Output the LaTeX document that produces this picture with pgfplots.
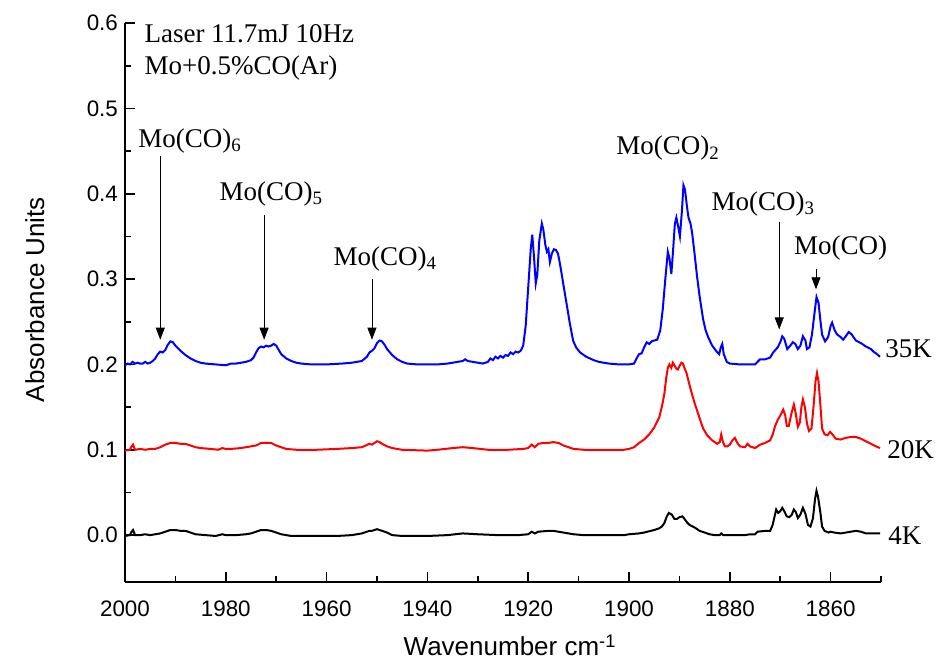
\documentclass[border=0pt]{standalone}
\usepackage{fontspec}
\setmainfont{Liberation Serif}
\setsansfont{Liberation Sans}
\usepackage{pgfplots}
\pgfplotsset{compat=1.18}
\usetikzlibrary{arrows.meta}

\pgfplotstableread{
x y
2000 0.199
1999.5 0.201
1999 0.200
1998.5 0.203
1998 0.201
1997.5 0.202
1997 0.201
1996.5 0.201
1996 0.203
1995.5 0.201
1995 0.202
1994.5 0.204
1994 0.207
1993.5 0.212
1993 0.215
1992.5 0.214
1992 0.217
1991.5 0.223
1991 0.227
1990.5 0.226
1990 0.222
1989 0.216
1988 0.211
1987 0.207
1986 0.204
1985 0.202
1984 0.201
1982 0.200
1980 0.199
1979 0.201
1978 0.201
1977 0.202
1976 0.203
1975 0.205
1974.5 0.208
1974 0.214
1973.5 0.219
1973 0.221
1972.5 0.220
1972 0.222
1971.5 0.221
1971 0.222
1970.5 0.224
1970 0.222
1969.5 0.217
1969 0.212
1968 0.207
1967 0.204
1966 0.202
1965 0.201
1963 0.200
1960 0.200
1957 0.201
1955 0.202
1953 0.204
1952 0.209
1951.5 0.214
1951 0.216
1950.5 0.219
1950 0.225
1949.5 0.228
1949 0.227
1948.5 0.223
1948 0.218
1947 0.211
1946 0.206
1945 0.203
1944 0.201
1942 0.200
1938 0.200
1936 0.201
1934 0.203
1933 0.204
1932.5 0.206
1932 0.204
1931 0.203
1930 0.202
1929 0.201
1928 0.203
1927.5 0.207
1927 0.205
1926.5 0.209
1926 0.207
1925.5 0.210
1925 0.208
1924.5 0.211
1924 0.210
1923.5 0.214
1923 0.212
1922.5 0.215
1922 0.214
1921.5 0.216
1921 0.222
1920.5 0.245
1920 0.290
1919.5 0.335
1919.2 0.352
1918.9 0.330
1918.5 0.295
1918.2 0.305
1917.8 0.345
1917.3 0.365
1917 0.358
1916.6 0.340
1916.3 0.332
1916 0.335
1915.7 0.320
1915.3 0.330
1914.9 0.335
1914.5 0.334
1914.1 0.330
1913.7 0.318
1913.2 0.300
1912.7 0.282
1912.3 0.268
1911.8 0.250
1911.1 0.228
1910.5 0.220
1909.7 0.214
1908.5 0.209
1907 0.205
1906 0.203
1904 0.201
1902 0.200
1900 0.200
1899 0.201
1898.5 0.207
1898 0.212
1897.5 0.213
1897 0.220
1896.5 0.226
1896 0.224
1895.5 0.227
1895 0.228
1894.4 0.229
1893.8 0.240
1893.3 0.265
1892.8 0.300
1892.3 0.332
1892 0.325
1891.6 0.306
1891.3 0.330
1890.9 0.365
1890.6 0.372
1890.2 0.360
1889.9 0.350
1889.5 0.380
1889.2 0.410
1888.9 0.405
1888.5 0.385
1888.2 0.372
1887.8 0.365
1887.5 0.355
1887 0.330
1886.5 0.303
1886 0.280
1885.3 0.253
1884.8 0.240
1884.3 0.232
1883.5 0.222
1882.6 0.215
1882.1 0.212
1881.8 0.220
1881.5 0.224
1881.2 0.212
1880.6 0.203
1880 0.201
1878 0.200
1876 0.200
1875 0.200
1874.5 0.203
1874 0.206
1873 0.206
1872 0.208
1871.4 0.214
1870.5 0.220
1870 0.226
1869.6 0.233
1869.2 0.230
1868.6 0.218
1868 0.222
1867.5 0.226
1867 0.224
1866.5 0.218
1866 0.222
1865.5 0.233
1865 0.228
1864.7 0.218
1864.2 0.220
1863.7 0.235
1863.2 0.260
1862.8 0.279
1862.4 0.272
1862 0.250
1861.7 0.235
1861.1 0.227
1860.5 0.232
1860 0.245
1859.7 0.249
1859.2 0.240
1858.7 0.235
1858 0.232
1857.5 0.229
1857 0.233
1856.4 0.238
1855.8 0.235
1855 0.228
1854 0.225
1853 0.221
1852 0.218
1851.5 0.215
1851 0.213
1850.2 0.209
}\kthirtyfive

\pgfplotstableread{
x y
2000 0.099
1999 0.100
1998.8 0.103
1998.4 0.106
1998 0.100
1997 0.101
1996 0.100
1995 0.101
1994 0.101
1993 0.103
1992 0.106
1991 0.108
1990 0.108
1989 0.107
1988 0.107
1987 0.105
1986 0.103
1985 0.102
1983 0.101
1981.5 0.100
1980.7 0.102
1980 0.101
1979 0.101
1977 0.102
1975 0.104
1974 0.105
1973 0.108
1972 0.108
1971 0.108
1970 0.105
1969 0.103
1968 0.101
1966 0.100
1962 0.100
1958 0.101
1955 0.102
1953 0.103
1951.5 0.107
1951 0.106
1950 0.110
1949.5 0.109
1949 0.107
1948 0.104
1947 0.102
1945 0.100
1940 0.099
1938 0.100
1935 0.102
1933 0.103
1931 0.102
1928 0.100
1924 0.100
1921 0.101
1920 0.102
1919.3 0.106
1918.7 0.103
1918 0.107
1917 0.108
1916 0.108
1915 0.109
1914 0.108
1913 0.105
1912 0.103
1911 0.101
1909 0.100
1905 0.100
1901 0.100
1900 0.101
1899 0.103
1898 0.108
1897.5 0.110
1897 0.112
1896 0.118
1895 0.126
1894 0.138
1893.5 0.150
1893 0.165
1892.6 0.185
1892.3 0.196
1892 0.200
1891.6 0.196
1891.3 0.202
1891 0.199
1890.6 0.195
1890.3 0.194
1890 0.198
1889.6 0.202
1889.3 0.201
1889 0.196
1888.6 0.190
1888.3 0.183
1888 0.176
1887.5 0.165
1887 0.155
1886.5 0.146
1886 0.137
1885.3 0.125
1884.5 0.117
1883.5 0.111
1882.5 0.107
1882 0.109
1881.7 0.118
1881.4 0.110
1881 0.104
1880.5 0.104
1880 0.106
1879.5 0.111
1879 0.114
1878.5 0.108
1878 0.104
1877 0.103
1876.5 0.107
1876 0.104
1875 0.102
1874.5 0.104
1874 0.106
1873 0.108
1872 0.111
1871.5 0.118
1871 0.128
1870.5 0.135
1870 0.140
1869.4 0.147
1869 0.140
1868.7 0.128
1868.3 0.128
1867.8 0.142
1867.3 0.153
1867 0.145
1866.5 0.127
1866.1 0.132
1865.8 0.150
1865.5 0.159
1865.1 0.150
1864.7 0.131
1864.3 0.122
1863.8 0.125
1863.4 0.150
1863 0.180
1862.7 0.190
1862.4 0.180
1862 0.150
1861.7 0.125
1861.2 0.118
1860.6 0.117
1860.1 0.121
1859.5 0.117
1859 0.113
1858 0.112
1857 0.114
1856 0.115
1855 0.115
1854 0.113
1853 0.110
1852 0.107
1851 0.104
1850.2 0.102
}\ktwenty

\pgfplotstableread{
x y
2000 -0.001
1999 0.000
1998.8 0.003
1998.4 0.006
1998 0.000
1997 0.000
1996 0.001
1995 0.000
1994 0.001
1993 0.002
1992 0.004
1991 0.006
1990 0.006
1989 0.005
1988 0.005
1987 0.003
1986 0.001
1984 0.000
1982 -0.001
1980.7 0.001
1980 0.000
1978 0.000
1976 0.001
1975 0.002
1974 0.004
1973 0.006
1972 0.006
1971 0.005
1970 0.003
1969 0.001
1967 -0.001
1963 -0.001
1958 -0.001
1955 0.000
1953 0.002
1951.5 0.005
1951 0.005
1950 0.007
1949 0.005
1948 0.003
1947 0.000
1945 -0.001
1940 -0.001
1936 0.000
1933 0.002
1930 0.001
1926 0.000
1922 0.000
1920 0.001
1919.3 0.004
1918.7 0.002
1918 0.004
1916 0.005
1915 0.005
1914 0.004
1913 0.003
1911 0.001
1909 0.000
1901 0.000
1900 0.001
1898 0.002
1897 0.003
1895 0.006
1894 0.008
1893.5 0.010
1893 0.014
1892.5 0.022
1892.1 0.026
1891.5 0.024
1891 0.019
1890.5 0.019
1890 0.021
1889.4 0.022
1889 0.019
1888.5 0.015
1888 0.012
1887 0.009
1886 0.005
1885 0.003
1884 0.001
1883 0.000
1882 0.000
1881.7 0.002
1881.3 0.000
1879 0.000
1877 0.000
1876 0.001
1875 0.001
1874.5 0.004
1873 0.005
1872 0.005
1871.5 0.012
1871 0.025
1870.8 0.030
1870.4 0.026
1870 0.028
1869.6 0.032
1869.2 0.028
1868.7 0.022
1868.2 0.021
1867.7 0.024
1867.3 0.030
1866.9 0.027
1866.5 0.020
1866 0.024
1865.5 0.032
1865 0.025
1864.5 0.012
1864 0.010
1863.5 0.020
1863.1 0.042
1862.8 0.052
1862.5 0.045
1862 0.025
1861.7 0.010
1861.2 0.005
1860.4 0.003
1860 0.004
1859.3 0.003
1858 0.002
1857 0.003
1856 0.004
1855 0.005
1854 0.004
1853 0.002
1852 0.002
1850.2 0.002
}\kfour

\tikzset{lbl/.style={anchor=west, inner sep=1pt, font=\fontsize{13.5}{16}\selectfont}}

\begin{document}
\begin{tikzpicture}
\begin{axis}[
  scale only axis,
  width=378pt, height=279.5pt,
  x dir=reverse,
  xmin=1850, xmax=2000,
  ymin=-0.055, ymax=0.6,
  axis x line*=bottom,
  axis y line*=left,
  axis line style={-, line width=0.8pt},
  tick align=inside,
  major tick length=5pt,
  minor tick length=3pt,
  tick style={line width=0.8pt, black},
  xtick={1860,1880,...,2000},
  minor xtick={1850,1870,...,1990},
  ytick={0,0.1,...,0.6},
  minor ytick={0.05,0.15,...,0.55},
  yticklabel style={/pgf/number format/fixed, /pgf/number format/fixed zerofill, /pgf/number format/precision=1},
  xticklabel style={/pgf/number format/1000 sep={}, yshift=-6pt},
  /pgf/number format/assume math mode=true,
  ticklabel style={font=\sffamily\fontsize{11.2}{13}\selectfont},
  label style={font=\sffamily\fontsize{13}{15}\selectfont},
  xlabel={Wavenumber cm\textsuperscript{-1}},
  ylabel={Absorbance Units},
  xlabel style={at={(axis cs:1923.6,-0.129)}, anchor=center},
  ylabel style={at={(axis cs:2017.9,0.276)}, anchor=center, rotate=0},
  clip=false,
]
\path (axis cs:2024.8,-0.151) rectangle (axis cs:1838.3,0.627);
\addplot[black, line width=1pt] table {\kfour};
\addplot[red, line width=1pt] table {\ktwenty};
\addplot[blue, line width=1pt] table {\kthirtyfive};

\node[lbl] at (axis cs:1996.6,0.587) {Laser 11.7mJ 10Hz};
\node[lbl] at (axis cs:1996.6,0.547) {Mo+0.5\%CO(Ar)};
\node[lbl] at (axis cs:1997.8,0.462) {Mo(CO)\textsubscript{6}};
\node[lbl] at (axis cs:1981.7,0.400) {Mo(CO)\textsubscript{5}};
\node[lbl] at (axis cs:1959.1,0.324) {Mo(CO)\textsubscript{4}};
\node[lbl] at (axis cs:1903.0,0.453) {Mo(CO)\textsubscript{2}};
\node[lbl] at (axis cs:1884.1,0.388) {Mo(CO)\textsubscript{3}};
\node[lbl] at (axis cs:1867.7,0.336) {Mo(CO)};
\node[lbl] at (axis cs:1849.6,0.218) {35K};
\node[lbl] at (axis cs:1849.2,0.100) {20K};
\node[lbl] at (axis cs:1849.0,0.000) {4K};

\draw[-{Triangle[length=6pt,width=4.5pt]}, line width=0.4pt] (axis cs:1993,0.444) -- (axis cs:1993,0.229);
\draw[-{Triangle[length=6pt,width=4.5pt]}, line width=0.4pt] (axis cs:1972.4,0.375) -- (axis cs:1972.4,0.229);
\draw[-{Triangle[length=6pt,width=4.5pt]}, line width=0.4pt] (axis cs:1951,0.300) -- (axis cs:1951,0.229);
\draw[-{Triangle[length=6pt,width=4.5pt]}, line width=0.4pt] (axis cs:1870.2,0.367) -- (axis cs:1870.2,0.241);
\draw[-{Triangle[length=6pt,width=4.5pt]}, line width=0.4pt] (axis cs:1862.9,0.312) -- (axis cs:1862.9,0.288);
\end{axis}
\end{tikzpicture}
\end{document}
